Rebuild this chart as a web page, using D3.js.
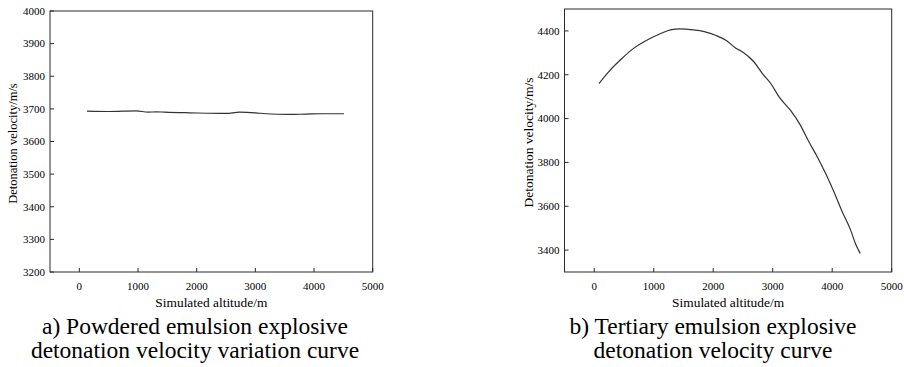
<!DOCTYPE html>
<html>
<head>
<meta charset="utf-8">
<script src="https://cdn.jsdelivr.net/npm/d3@7"></script>
</head>
<body style="margin:0; background:#fff">
<svg id="chart" width="904" height="367"></svg>
<script>
// Panel a: powdered emulsion explosive
const altitudeA = [130, 500, 970, 1170, 1310, 1450, 1880, 2500, 2730, 3000, 3180, 3580, 3860, 4140, 4510];
const velocityA = [3693, 3692, 3694, 3690, 3691, 3690, 3688, 3686, 3690, 3688, 3685, 3683, 3684, 3685, 3685];

// Panel b: tertiary emulsion explosive
const altitudeB = [80, 260, 460, 650, 930, 1100, 1300, 1430, 1660, 1850, 2050, 2220, 2380, 2500, 2690, 2830, 2970, 3110, 3300, 3450, 3610, 3750, 3890, 4030, 4170, 4310, 4390, 4470];
const velocityB = [4160, 4219, 4273, 4318, 4364, 4386, 4406, 4409, 4405, 4397, 4379, 4356, 4321, 4303, 4257, 4204, 4159, 4098, 4037, 3977, 3893, 3825, 3749, 3665, 3574, 3491, 3430, 3385];

const xTicks = [0, 1000, 2000, 3000, 4000, 5000];
const yTicksA = [3200, 3300, 3400, 3500, 3600, 3700, 3800, 3900, 4000];
const yTicksB = [3400, 3600, 3800, 4000, 4200, 4400];

const xTitle = "Simulated altitude/m";
const yTitle = "Detonation velocity/m/s";
const captionA = ["a) Powdered emulsion explosive", "detonation velocity variation curve"];
const captionB = ["b) Tertiary emulsion explosive", "detonation velocity curve"];

const svg = d3.select("#chart");
const ink = "#2b2b2b";

// Place start-anchored text, shifted by a fraction of its measured width
// (0.5 = centred, 1 = right-aligned).
function put(sel, size, shift) {
  sel.attr("font-family", "'Liberation Serif'").attr("font-size", size);
  sel.each(function () {
    const t = d3.select(this);
    const w = this.getComputedTextLength();
    t.attr("x", +t.attr("x") - w * shift);
  });
  return sel;
}

function panel(opt) {
  const x = d3.scaleLinear().domain([-500, 5000]).range([opt.left, opt.right]);
  const y = d3.scaleLinear().domain(opt.yDomain).range([opt.bottom, opt.top]);

  // frame
  svg.append("rect")
    .attr("x", opt.left).attr("y", opt.top)
    .attr("width", opt.right - opt.left).attr("height", opt.bottom - opt.top)
    .attr("fill", "none").attr("stroke", ink).attr("stroke-width", 1);

  // inward ticks, bottom axis
  svg.selectAll(null).data(xTicks).join("line")
    .attr("x1", d => x(d)).attr("x2", d => x(d))
    .attr("y1", opt.bottom).attr("y2", opt.bottom - 4)
    .attr("stroke", ink);
  put(svg.selectAll(null).data(xTicks).join("text")
    .attr("font-family", "'Liberation Serif'").attr("font-size", 11)
    .attr("x", d => x(d)).attr("y", opt.bottom + 18)
    .text(d => d), 11, 0.5);

  // inward ticks, left axis
  svg.selectAll(null).data(opt.yTicks).join("line")
    .attr("x1", opt.left).attr("x2", opt.left + 4)
    .attr("y1", d => y(d)).attr("y2", d => y(d))
    .attr("stroke", ink);
  put(svg.selectAll(null).data(opt.yTicks).join("text")
    .attr("font-family", "'Liberation Serif'").attr("font-size", 11)
    .attr("x", opt.left - 5).attr("y", d => y(d) + 3.8)
    .text(d => d), 11, 1);

  // curve
  const pts = opt.xs.map((d, i) => [d, opt.ys[i]]);
  svg.append("path")
    .datum(pts)
    .attr("fill", "none")
    .attr("stroke", "#333")
    .attr("stroke-width", 1.2)
    .attr("stroke-linejoin", "round")
    .attr("d", d3.line().x(d => x(d[0])).y(d => y(d[1])).curve(d3.curveMonotoneX));

  // axis titles
  put(svg.append("text")
    .attr("font-family", "'Liberation Serif'").attr("font-size", 13.4)
    .attr("x", (opt.left + opt.right) / 2).attr("y", 307)
    .text(xTitle), 13.4, 0.5);

  put(svg.append("g")
    .attr("transform", `translate(${opt.yTitleX},${opt.yTitleY}) rotate(-90)`)
    .append("text")
    .attr("font-family", "'Liberation Serif'").attr("font-size", opt.yTitleSize)
    .attr("x", 0).attr("y", 0)
    .text(yTitle), opt.yTitleSize, 0.5);

  // caption
  put(svg.selectAll(null).data(opt.caption).join("text")
    .attr("font-family", "'Liberation Serif'").attr("font-size", 23.5)
    .attr("x", opt.capX).attr("y", (d, i) => 334 + i * 24)
    .text(d => d), 23.5, 0.5);
}

panel({
  left: 50, right: 372.7, top: 11, bottom: 272,
  yDomain: [3200, 4000], yTicks: yTicksA,
  xs: altitudeA, ys: velocityA,
  yTitleX: 16.5, yTitleY: 143.5, yTitleSize: 12.5,
  caption: captionA, capX: 195
});

panel({
  left: 564.5, right: 891.7, top: 9, bottom: 272,
  yDomain: [3300, 4500], yTicks: yTicksB,
  xs: altitudeB, ys: velocityB,
  yTitleX: 533, yTitleY: 142.5, yTitleSize: 13.5,
  caption: captionB, capX: 713
});
</script>
</body>
</html>
